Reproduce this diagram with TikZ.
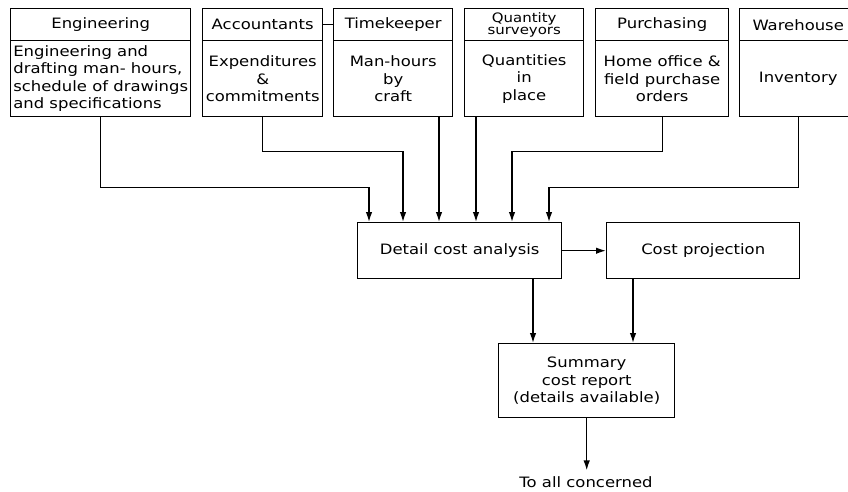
\documentclass[tikz,border=0pt]{standalone}
\usepackage{fontspec}
\setmainfont[FakeStretch=1.15]{DejaVu Sans}
\usetikzlibrary{arrows.meta,calc}
\begin{document}
\begin{tikzpicture}[x=1pt,y=-1pt,line width=1.4pt,
  font=\fontsize{14.3}{17.5}\selectfont,
  >={Latex[length=10pt,width=6.5pt]}]
\tikzset{
  box/.style={draw, inner sep=0pt, anchor=north west, align=center},
  hdr/.style={box, minimum height=32pt},
  bdy/.style={box, minimum height=76pt},
  flow/.style={->}
}
\clip (0,0) rectangle (848,491);
% top boxes
\node[hdr, minimum width=180pt] (enghd) at (10,8) {Engineering};
\node[bdy, minimum width=180pt, align=left] (engb) at (10,40) {Engineering and\\drafting man- hours,\\schedule of drawings\\and specifications};
\node[hdr, minimum width=120pt] (acchd) at (202,8) {Accountants};
\node[bdy, minimum width=120pt] (accb) at (202,40) {Expenditures\\\&\\commitments};
\node[hdr, minimum width=119pt] (timhd) at (333,8) {Timekeeper};
\node[bdy, minimum width=119pt] (timb) at (333,40) {Man-hours\\by\\craft};
\node[hdr, minimum width=119pt, font=\fontsize{13}{12.5}\selectfont] (qshd) at (464,8) {Quantity\\surveyors};
\node[bdy, minimum width=119pt] (qsb) at (464,40) {Quantities\\in\\place};
\node[hdr, minimum width=133pt] (purhd) at (595,8) {Purchasing};
\node[bdy, minimum width=133pt] (purb) at (595,40) {Home office \&\\field purchase\\orders};
\node[hdr, minimum width=117pt] (warhd) at (739,8) {Warehouse};
\node[bdy, minimum width=117pt] (warb) at (739,40) {Inventory};
\draw (acchd.east) -- (timhd.west);
% middle boxes
\node[box, minimum width=204pt, minimum height=56pt] (dca) at (357,222) {Detail cost analysis};
\node[box, minimum width=193pt, minimum height=56pt] (cp) at (606,222) {Cost projection};
\node[box, minimum width=176pt, minimum height=74pt] (sum) at (498,343) {Summary\\cost report\\(details available)};
\node[anchor=base, inner sep=0pt] (dest) at (586,487) {To all concerned};
% input points on the analysis box
\coordinate (i1) at (369,222);
\coordinate (i2) at (403,222);
\coordinate (i3) at (439,222);
\coordinate (i4) at (476,222);
\coordinate (i5) at (512,222);
\coordinate (i6) at (549,222);
\draw[flow] (engb.south) -- ++(0,70) -| (i1);
\draw[flow] (accb.south) -- ++(0,34) -| (i2);
\draw[flow] (i3 |- timb.south) -- (i3);
\draw[flow] (i4 |- qsb.south) -- (i4);
\draw[flow] (purb.south) -- ++(0,34) -| (i5);
\draw[flow] (warb.south) -- ++(0,70) -| (i6);
\draw[flow] (dca.east) -- (cp.west);
\draw[flow] ($(dca.south west)+(176,0)$) -- ($(sum.north west)+(35,0)$);
\draw[flow] ($(cp.south west)+(27,0)$) -- ($(sum.north west)+(135,0)$);
\draw[flow] (sum.south) -- ($(sum.south |- dest.north)+(0,-5)$);
\end{tikzpicture}
\end{document}
